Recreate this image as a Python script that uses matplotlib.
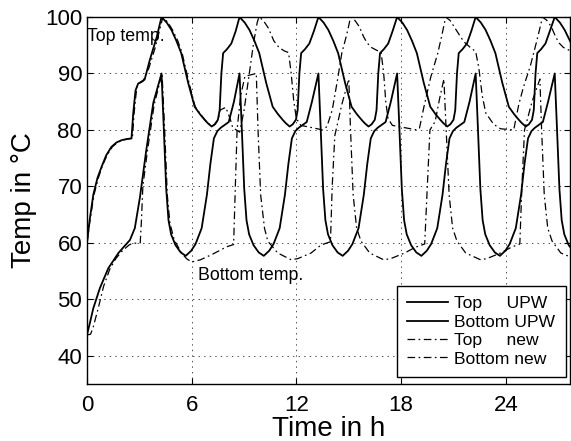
import numpy as np
import matplotlib
matplotlib.use("Agg")
import matplotlib.pyplot as plt

plt.rcParams['font.family'] = ['Liberation Sans', 'DejaVu Sans']
plt.rcParams['lines.scale_dashes'] = False

# (time in h, temperature in C)
top_upw = [
    (0, 60), (0.15, 64), (0.36, 68.5), (0.6, 71.5), (0.84, 73.5), (1.1, 75.5), (1.4, 77), (1.7, 77.8),
    (2.0, 78.2), (2.3, 78.4), (2.55, 78.5), (2.65, 83), (2.78, 87), (2.93, 88.2), (3.3, 88.9),
    (3.6, 92.4), (4.0, 96.5), (4.27, 100),
    (4.57, 99.0), (4.84, 97.7), (5.12, 95.8), (5.40, 93.6), (5.80, 88.3), (6.17, 84.1), (6.47, 82.8),
    (6.74, 81.8), (6.92, 81.2), (7.14, 80.6), (7.32, 81.0), (7.50, 81.8), (7.60, 83.5), (7.70, 90),
    (7.80, 93.6), (8.02, 94.3), (8.27, 95.3), (8.52, 97.5), (8.74, 100),
    (9.04, 99.0), (9.31, 97.7), (9.59, 95.8), (9.87, 93.6), (10.27, 88.3), (10.64, 84.1), (10.94, 82.8),
    (11.21, 81.8), (11.39, 81.2), (11.61, 80.6), (11.79, 81.0), (11.97, 81.8), (12.07, 83.5), (12.17, 90),
    (12.27, 93.6), (12.49, 94.3), (12.74, 95.3), (13.0, 97.5), (13.26, 100),
    (13.56, 99.0), (13.83, 97.7), (14.11, 95.8), (14.39, 93.6), (14.79, 88.3), (15.16, 84.1), (15.46, 82.8),
    (15.73, 81.8), (15.91, 81.2), (16.13, 80.6), (16.31, 81.0), (16.49, 81.8), (16.59, 83.5), (16.69, 90),
    (16.79, 93.6), (17.01, 94.3), (17.26, 95.3), (17.51, 97.5), (17.77, 100),
    (18.07, 99.0), (18.34, 97.7), (18.62, 95.8), (18.90, 93.6), (19.30, 88.3), (19.67, 84.1), (19.97, 82.8),
    (20.24, 81.8), (20.42, 81.2), (20.64, 80.6), (20.82, 81.0), (21.00, 81.8), (21.10, 83.5), (21.20, 90),
    (21.30, 93.6), (21.52, 94.3), (21.77, 95.3), (22.02, 97.5), (22.27, 100),
    (22.57, 99.0), (22.84, 97.7), (23.12, 95.8), (23.40, 93.6), (23.80, 88.3), (24.17, 84.1), (24.47, 82.8),
    (24.74, 81.8), (24.92, 81.2), (25.14, 80.6), (25.32, 81.0), (25.50, 81.8), (25.60, 83.5), (25.70, 90),
    (25.80, 93.6), (26.02, 94.3), (26.27, 95.3), (26.52, 97.5), (26.80, 100),
    (27.10, 99.0), (27.37, 97.7), (27.70, 95.6),
]

bottom_upw = [
    (0, 43.7), (0.18, 46), (0.36, 48.4), (0.74, 52), (1.22, 55.5), (1.8, 58.2), (2.2, 59.6), (2.46, 60.5),
    (2.74, 62.6), (3.03, 68), (3.4, 76.5), (3.8, 84.8), (4.27, 90),
    (4.39, 81), (4.54, 69.5), (4.67, 64), (4.82, 61.5), (5.07, 59.6), (5.37, 58.3), (5.66, 57.7), (5.97, 58.6),
    (6.22, 59.8), (6.57, 62.6), (6.87, 68.5), (7.07, 74), (7.27, 78.5), (7.47, 79.8), (7.67, 80.4),
    (8.12, 81.4), (8.42, 85), (8.74, 90),
    (8.86, 81), (9.01, 69.5), (9.14, 64), (9.29, 61.5), (9.54, 59.6), (9.84, 58.3), (10.13, 57.7), (10.44, 58.6),
    (10.69, 59.8), (11.04, 62.6), (11.34, 68.5), (11.54, 74), (11.74, 78.5), (11.94, 79.8), (12.14, 80.4),
    (12.59, 81.4), (12.89, 85), (13.26, 90),
    (13.38, 81), (13.53, 69.5), (13.66, 64), (13.81, 61.5), (14.06, 59.6), (14.36, 58.3), (14.65, 57.7), (14.96, 58.6),
    (15.21, 59.8), (15.56, 62.6), (15.86, 68.5), (16.06, 74), (16.26, 78.5), (16.46, 79.8), (16.66, 80.4),
    (17.11, 81.4), (17.41, 85), (17.77, 90),
    (17.89, 81), (18.04, 69.5), (18.17, 64), (18.32, 61.5), (18.57, 59.6), (18.87, 58.3), (19.16, 57.7), (19.47, 58.6),
    (19.72, 59.8), (20.07, 62.6), (20.37, 68.5), (20.57, 74), (20.77, 78.5), (20.97, 79.8), (21.17, 80.4),
    (21.62, 81.4), (21.92, 85), (22.27, 90),
    (22.39, 81), (22.54, 69.5), (22.67, 64), (22.82, 61.5), (23.07, 59.6), (23.37, 58.3), (23.66, 57.7), (23.97, 58.6),
    (24.22, 59.8), (24.57, 62.6), (24.87, 68.5), (25.07, 74), (25.27, 78.5), (25.47, 79.8), (25.67, 80.4),
    (26.12, 81.4), (26.42, 85), (26.80, 90),
    (26.92, 81), (27.07, 69.5), (27.20, 64), (27.35, 61.5), (27.60, 59.6), (27.75, 59.0),
]

top_new = [
    (0, 60), (0.15, 63.5), (0.4, 68.5), (0.65, 71.5), (0.9, 73.8), (1.15, 75.5), (1.45, 77), (1.75, 77.8),
    (2.05, 78.2), (2.35, 78.4), (2.6, 78.5), (2.7, 83), (2.85, 87.5), (2.97, 88.2), (3.2, 88.6), (3.5, 90.5),
    (3.9, 94.5), (4.35, 100),
    (4.65, 99.0), (4.9, 97.7), (5.2, 95.8), (5.45, 93.6), (5.85, 88.3), (6.2, 84.1), (6.5, 82.8), (6.75, 81.8),
    (6.95, 81.2), (7.15, 80.6), (7.35, 81.0), (7.52, 81.8), (7.62, 83.5), (7.95, 84.0), (8.2, 82.0),
    (8.35, 80.4), (8.75, 79.6), (9.0, 83.5), (9.3, 90), (9.55, 95.5), (9.75, 99), (9.85, 100),
    (10.1, 99.4), (10.4, 98.0), (10.7, 95.8), (11.0, 94.6), (11.3, 94.0), (11.55, 93.7), (11.7, 90),
    (11.85, 85), (12.0, 82), (12.25, 80.8), (12.9, 80.4), (13.5, 80.0), (13.75, 80.6), (14.05, 83.5),
    (14.35, 88.8), (14.6, 93.6), (14.85, 96.5), (15.0, 98.5), (15.1, 100),
    (15.35, 99.4), (15.6, 98.3), (15.85, 96.5), (16.05, 95.4), (16.3, 94.6), (16.6, 94.1), (16.85, 93.8),
    (17.0, 90), (17.12, 85), (17.25, 82), (17.5, 80.8), (18.2, 80.4), (18.9, 80.0), (19.05, 80.3),
    (19.3, 84), (19.7, 89.4), (20.1, 93.6), (20.35, 97), (20.55, 100),
    (20.8, 99.4), (21.03, 98.3), (21.3, 97.0), (21.6, 95.6), (22.0, 94.5), (22.27, 93.9), (22.45, 91),
    (22.65, 86), (22.85, 83), (23.3, 81), (23.7, 80.2), (24.45, 80.0), (24.74, 84.5), (25.0, 87.5),
    (25.4, 91.3), (25.75, 95.5), (25.98, 98.4), (26.1, 100),
    (26.35, 99.4), (26.6, 98.3), (26.85, 96.5), (27.05, 95.4), (27.3, 94.6), (27.7, 94.0),
]

bottom_new = [
    (0, 43.7), (0.2, 43.8), (0.35, 45), (0.65, 48.5), (0.95, 52.3), (1.3, 55.3), (1.65, 57.2), (2.0, 58.5),
    (2.4, 59.6), (2.6, 59.9), (3.05, 60.0), (3.12, 64), (3.2, 70), (3.45, 76), (3.85, 84.5), (4.3, 90),
    (4.45, 80), (4.6, 68.5), (4.75, 63.5), (5.0, 60.5), (5.4, 58.3), (5.7, 57.2), (6.0, 56.6), (6.5, 57.0),
    (7.2, 58.0), (8.0, 59.3), (8.4, 59.7),
    (8.5, 70), (8.6, 80), (8.8, 86), (9.05, 89.5), (9.7, 90), (9.8, 80), (9.95, 68.5), (10.17, 62.6),
    (10.36, 60.3), (10.93, 58.2), (11.7, 57), (12.07, 57.2), (12.84, 58.2), (13.4, 59.6), (13.95, 60.2),
    (14.05, 70), (14.2, 79), (14.6, 84.5), (15.0, 89), (15.1, 80), (15.25, 68.5), (15.45, 62.6),
    (15.7, 60.3), (16.2, 58.2), (17.0, 57), (17.4, 57.2), (18.2, 58.2), (18.8, 59.2), (19.35, 59.8),
    (19.5, 70), (19.65, 80), (19.95, 81.5), (20.2, 85.5), (20.45, 89), (20.55, 82), (20.75, 68.5),
    (20.95, 62.6), (21.2, 60.3), (21.7, 58.2), (22.55, 57), (22.9, 57.2), (23.7, 58.2), (24.3, 59.2),
    (24.8, 59.8), (24.92, 70), (25.07, 80), (25.5, 85), (25.95, 89), (26.05, 80), (26.2, 68.5),
    (26.4, 62.6), (26.65, 60.3), (27.15, 58.2), (27.7, 57.5),
]

labels = ["Top     UPW", "Bottom UPW", "Top     new", "Bottom new"]
xticks = [0, 6, 12, 18, 24]
yticks = [40, 50, 60, 70, 80, 90, 100]

fig = plt.figure(figsize=(5.71, 4.41), dpi=100)
ax = fig.add_axes([87 / 571, 1 - 384 / 441, 1 - 87 / 571 - 0.001, (384 - 17) / 441])

dashdot = (0, (5.5, 2.5, 1.2, 2.5))
series = [top_upw, bottom_upw, top_new, bottom_new]
styles = [dict(ls='-', lw=1.3), dict(ls='-', lw=1.3), dict(ls=dashdot, lw=0.9), dict(ls=dashdot, lw=0.9)]
for data, lab, st in zip(series, labels, styles):
    arr = np.array(data)
    ax.plot(arr[:, 0], arr[:, 1], color='black', label=lab, **st)

ax.set_xlim(0, 27.7)
ax.set_ylim(35, 100)
ax.set_xticks(xticks)
ax.set_yticks(yticks)
ax.tick_params(direction='in', length=4, width=0.8, top=True, right=True, labelsize=16)
ax.tick_params(axis='x', pad=8)
ax.tick_params(axis='y', pad=3.5)
ax.grid(True, color='0.3', linestyle=(0, (1, 3)), linewidth=0.7)
for sp in ax.spines.values():
    sp.set_linewidth(1.0)

ax.set_xlabel("Time in h", fontsize=20, labelpad=0)
ax.set_ylabel("Temp in °C", fontsize=20, labelpad=6)

ax.text(0.02, 96.5, "Top temp.", fontsize=12.8, ha='left', va='center')
ax.text(6.34, 54.3, "Bottom temp.", fontsize=12.8, ha='left', va='center')

leg = ax.legend(loc='lower right', bbox_to_anchor=(0.99, 0.019), borderaxespad=0, fontsize=12.6,
                fancybox=False, framealpha=1, edgecolor='black', handlelength=2.35,
                handletextpad=0.34, labelspacing=0.18, borderpad=0.6)
leg.get_frame().set_linewidth(1.0)

fig.savefig("out.png", dpi=100)
